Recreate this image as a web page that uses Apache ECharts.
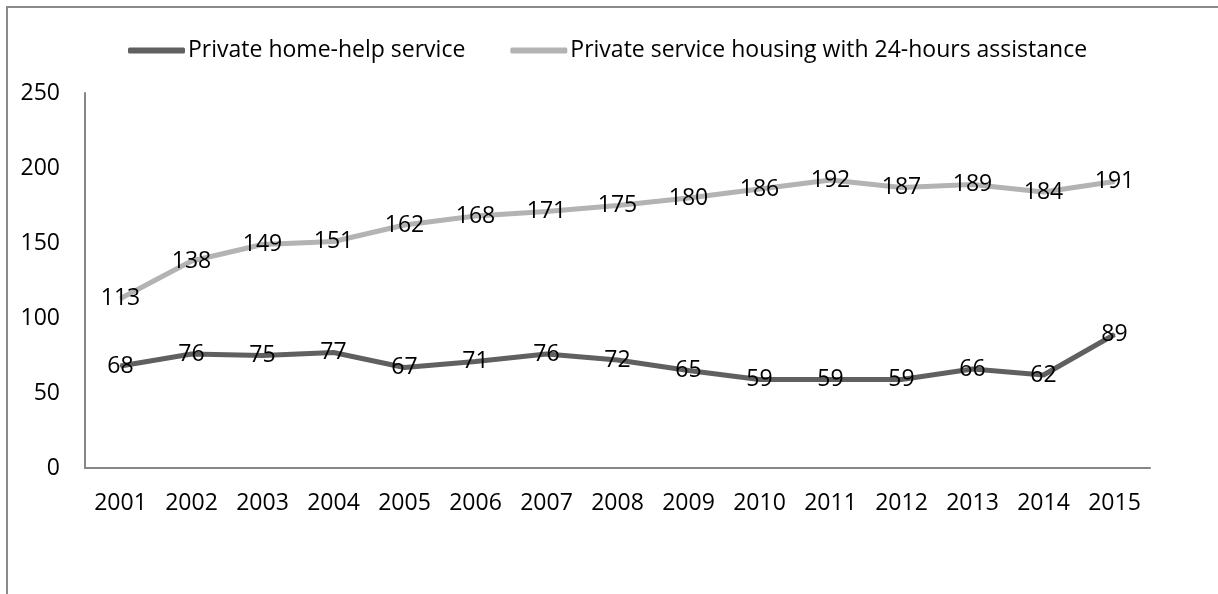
<!DOCTYPE html>
<html>
<head>
<meta charset="utf-8">
<script src="https://cdn.jsdelivr.net/npm/echarts@6/dist/echarts.min.js"></script>
<style>
html,body{margin:0;padding:0;background:#fff;}
#c{width:1218px;height:594px;}
</style>
</head>
<body>
<div id="c"></div>
<script>
const years = ['2001','2002','2003','2004','2005','2006','2007','2008','2009','2010','2011','2012','2013','2014','2015'];
const homeHelp = [68,76,75,77,67,71,76,72,65,59,59,59,66,62,89];
const serviceHousing = [113,138,149,151,162,168,171,175,180,186,192,187,189,184,191];
const seriesNames = ['Private home-help service','Private service housing with 24-hours assistance'];

const FONT = 'Open Sans';
const FS = 23;
const chart = echarts.init(document.getElementById('c'));
chart.setOption({
  animation: false,
  backgroundColor: '#fff',
  textStyle: { fontFamily: FONT },
  graphic: [{
    type: 'rect',
    shape: { x: 7, y: 7, width: 1400, height: 800 },
    style: { fill: 'none', stroke: '#8a8a8a', lineWidth: 2 },
    silent: true
  }],
  legend: {
    left: 123,
    top: 34,
    itemWidth: 57,
    itemHeight: 6,
    itemGap: 45,
    icon: 'roundRect',
    textStyle: { color: '#000', fontSize: FS, fontFamily: FONT, padding: [0, 0, 0, -2] },
    data: seriesNames
  },
  grid: { left: 85, right: 68, top: 93, bottom: 126, outerBoundsMode: 'none', containLabel: false },
  xAxis: {
    type: 'category',
    data: years,
    boundaryGap: true,
    axisLine: { lineStyle: { color: '#868686', width: 2 } },
    axisTick: { show: false },
    axisLabel: { color: '#000', fontSize: FS, fontFamily: FONT, margin: 24, interval: 0 }
  },
  yAxis: {
    type: 'value',
    min: 0, max: 250, interval: 50,
    splitLine: { show: false },
    axisLine: { show: true, lineStyle: { color: '#868686', width: 2 } },
    axisTick: { show: false },
    axisLabel: { color: '#000', fontSize: FS, fontFamily: FONT, margin: 25 }
  },
  series: [{
    name: seriesNames[0],
    type: 'line',
    data: homeHelp,
    symbol: 'circle',
    symbolSize: 2,
    showSymbol: true,
    color: '#606060',
    lineStyle: { width: 5, color: '#606060' },
    label: { show: true, position: 'inside', color: '#000', fontSize: FS, fontFamily: FONT }
  }, {
    name: seriesNames[1],
    type: 'line',
    data: serviceHousing,
    symbol: 'circle',
    symbolSize: 2,
    showSymbol: true,
    color: '#b3b3b3',
    lineStyle: { width: 5, color: '#b3b3b3' },
    label: { show: true, position: 'inside', color: '#000', fontSize: FS, fontFamily: FONT }
  }]
});
</script>
</body>
</html>
